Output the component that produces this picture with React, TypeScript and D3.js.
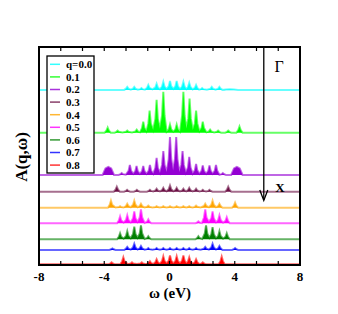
import React from "react";
import * as d3 from "d3";

// q values (legend) and colours
const qLabels = ["q=0.0", "0.1", "0.2", "0.3", "0.4", "0.5", "0.6", "0.7", "0.8"];
const qColors = ["#00FFFF", "#00FF00", "#9400D3", "#6B0F44", "#FFA500", "#FF00FF", "#008000", "#0000FF", "#FF0000"];
// vertical shift of each spectrum (arb. units)
const qOffsets = [8.03, 6.07, 4.13, 3.36, 2.63, 1.91, 1.18, 0.69, 0.03];

// peaks per q: [omega (eV), height, half width]
const peaks0 = [[-2.59, 0.14], [-2.16, 0.14], [-1.72, 0.09], [-1.3, 0.23], [-0.79, 0.28], [-0.38, 0.37], [0.03, 0.41], [0.44, 0.41], [0.85, 0.37], [1.21, 0.32], [1.63, 0.23], [2.0, 0.09], [2.59, 0.14], [3.06, 0.14], [3.7, 0.03, 0.5]];
const peaks1 = [[-3.79, 0.23], [-3.18, 0.09], [-2.59, 0.09], [-2.01, 0.14], [-1.61, 0.5], [-1.22, 1.01], [-0.79, 1.51], [-0.38, 1.88], [0.03, 0.37], [0.44, 0.37], [0.85, 1.88], [1.23, 1.56], [1.63, 1.01], [2.04, 0.5], [2.49, 0.14], [2.98, 0.09], [3.6, 0.09], [4.29, 0.28]];
const peaks2 = [[-3.75, 0.37, 0.35], [-2.93, 0.09], [-2.43, 0.46], [-2.02, 0.41], [-1.61, 0.41], [-1.2, 0.46], [-0.79, 0.78], [-0.38, 1.1], [0.03, 1.74], [0.41, 1.74], [0.8, 1.1], [1.21, 0.83], [1.63, 0.5], [2.04, 0.44], [2.45, 0.44], [2.85, 0.46], [3.27, 0.09], [4.13, 0.37, 0.35]];
const peaks3 = [[-3.23, 0.23], [-2.6, 0.09], [-2.0, 0.09], [-1.2, 0.09], [-0.79, 0.14], [-0.38, 0.18], [0.03, 0.28], [0.44, 0.18], [0.85, 0.14], [1.21, 0.18], [1.63, 0.14], [2.04, 0.09], [2.45, 0.09], [3.6, 0.23]];
const peaks4 = [[-3.59, 0.32], [-3.03, 0.07], [-2.59, 0.18], [-2.16, 0.32], [-1.75, 0.18], [-1.3, 0.09], [-0.79, 0.07], [-0.38, 0.07], [0.03, 0.07], [0.44, 0.07], [0.85, 0.07], [1.21, 0.07], [1.63, 0.09], [2.19, 0.18], [2.64, 0.32], [3.06, 0.18], [4.02, 0.23]];
const peaks5 = [[-3.03, 0.32], [-2.59, 0.37], [-2.16, 0.55], [-1.75, 0.64], [-1.3, 0.18], [1.77, 0.09], [2.19, 0.64], [2.64, 0.55], [3.06, 0.37], [3.51, 0.28]];
const peaks6 = [[-3.03, 0.28], [-2.59, 0.37], [-2.16, 0.58], [-1.75, 0.64], [-1.3, 0.14], [1.77, 0.14], [2.24, 0.64], [2.64, 0.55], [3.06, 0.37], [3.51, 0.28]];
const peaks7 = [[-3.5, 0.07], [-2.59, 0.14], [-2.16, 0.28], [-1.75, 0.18], [-1.3, 0.09], [-0.79, 0.09], [-0.38, 0.09], [0.03, 0.09], [0.44, 0.09], [0.85, 0.09], [1.21, 0.09], [1.63, 0.09], [2.19, 0.14], [2.64, 0.28], [3.06, 0.18], [4.02, 0.09]];
const peaks8 = [[-3.55, 0.09], [-2.83, 0.32], [-2.3, 0.09], [-1.7, 0.09], [-1.2, 0.14], [-0.79, 0.23], [-0.38, 0.37], [0.03, 0.41], [0.44, 0.37], [0.85, 0.41], [1.21, 0.32], [1.63, 0.23], [2.04, 0.09], [3.2, 0.35]];
const allPeaks = [peaks0, peaks1, peaks2, peaks3, peaks4, peaks5, peaks6, peaks7, peaks8];

const xTickLabels = [-8, -4, 0, 4, 8];
const gammaToX = 5.78; // position of the Γ -> X arrow (eV)

const W = 338, H = 314;
const x = d3.scaleLinear().domain([-8, 8]).range([39, 300]);
const y = d3.scaleLinear().domain([0, 10]).range([265, 47]);

// outline through the peaks; close neighbours share a shallow valley
function spectrumPoints(pk: number[][]) {
  const pts: [number, number][] = [[-8, 0]];
  pk.forEach((p, i) => {
    const hw = p[2] || 0.19;
    const prev = pk[i - 1];
    const next = pk[i + 1];
    if (!prev || p[0] - prev[0] > 0.6 || p[2] || prev[2]) pts.push([p[0] - hw, 0]);
    if (p[2]) {
      pts.push([p[0] - hw * 0.5, p[1] * 0.8]);
      pts.push([p[0], p[1]]);
      pts.push([p[0] + hw * 0.5, p[1] * 0.8]);
    } else {
      pts.push([p[0] - hw * 0.4, p[1] * 0.42]);
      pts.push([p[0], p[1]]);
      pts.push([p[0] + hw * 0.4, p[1] * 0.42]);
    }
    if (!next || next[0] - p[0] > 0.6 || p[2] || next[2]) {
      pts.push([p[0] + hw, 0]);
    } else {
      pts.push([(p[0] + next[0]) / 2, Math.min(p[1], next[1]) * 0.12]);
    }
  });
  pts.push([8, 0]);
  return pts;
}

export default function App() {
  const serif = "'Liberation Serif', 'Times New Roman', serif";
  const ticks = d3.range(-8, 8.001, 4 / 3);
  const ax = x(gammaToX);

  return (
    <svg width={W} height={H} style={{ position: "absolute", left: 0, top: 0, background: "#fff" }}>
      <defs>
        <clipPath id="plot">
          <rect x={39} y={47} width={261} height={218} />
        </clipPath>
      </defs>
      <g clipPath="url(#plot)">
        {allPeaks.map((pk, i) => {
          const off = qOffsets[i];
          const pts = spectrumPoints(pk);
          const area = d3.area<[number, number]>()
            .x((d) => x(d[0]))
            .y0(y(off))
            .y1((d) => y(off + d[1]));
          const line = d3.line<[number, number]>()
            .x((d) => x(d[0]))
            .y((d) => y(off + d[1]));
          return (
            <g key={i}>
              <path d={area(pts) || ""} fill={qColors[i]} />
              <path d={line(pts) || ""} fill="none" stroke={qColors[i]} strokeWidth={2} strokeOpacity={0.6} />
            </g>
          );
        })}
      </g>

      {/* Γ -> X arrow */}
      <line x1={ax} x2={ax} y1={47} y2={200} stroke="#000" strokeWidth={1.3} />
      <polyline points={`${ax - 4},190 ${ax},200.5 ${ax + 4},190`} fill="none" stroke="#000" strokeWidth={1.3} />
      <text x={279} y={72} fontFamily={serif} fontSize={16} textAnchor="middle">Γ</text>
      <text x={280} y={192} fontFamily={serif} fontSize={13} fontWeight="bold" textAnchor="middle">X</text>

      {/* ticks */}
      {ticks.map((t, i) => (
        <g key={i}>
          <line x1={x(t)} x2={x(t)} y1={265} y2={261} stroke="#000" strokeWidth={1.2} />
          <line x1={x(t)} x2={x(t)} y1={47} y2={51} stroke="#000" strokeWidth={1.2} />
        </g>
      ))}
      {xTickLabels.map((t) => (
        <text key={t} x={x(t)} y={281} fontFamily={serif} fontSize={13} fontWeight="bold" textAnchor="middle">{t}</text>
      ))}

      {/* frame */}
      <rect x={39} y={47} width={261} height={218} fill="none" stroke="#000" strokeWidth={2} />

      {/* legend */}
      <rect x={47} y={56} width={47} height={117} fill="#fff" stroke="#000" strokeWidth={1.3} />
      {qLabels.map((lab, i) => {
        const ly = 64.3 + i * 12.6;
        return (
          <g key={lab}>
            <line x1={50} x2={60} y1={ly} y2={ly} stroke={qColors[i]} strokeWidth={1.5} strokeOpacity={0.8} />
            <text x={66} y={ly + 3.8} fontFamily={serif} fontSize={11} fontWeight="bold">{lab}</text>
          </g>
        );
      })}

      {/* axis titles */}
      <text x={170} y={298} fontFamily={serif} fontSize={15} fontWeight="bold" textAnchor="middle">ω (eV)</text>
      <text transform="translate(27,157) rotate(-90)" fontFamily={serif} fontSize={17} fontWeight="bold" textAnchor="middle">A(q,ω)</text>
    </svg>
  );
}
